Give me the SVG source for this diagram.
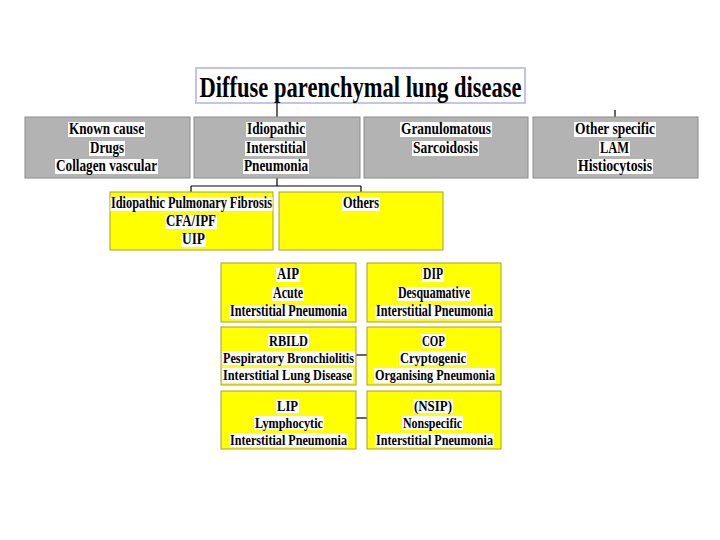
<svg xmlns="http://www.w3.org/2000/svg" width="720" height="540" viewBox="0 0 720 540">
<style>
.gray{fill:#b3b3b3;stroke:#8c8c8c;stroke-width:1}
.yel{fill:#ffff00;stroke:#a8a030;stroke-width:1}
.title{fill:#ffffff;stroke:#c4c4e8;stroke-width:2}
.hl{fill:#ffffff}
text{font-family:"Liberation Serif","Times New Roman",serif;font-weight:bold;fill:#000;text-anchor:middle}
.t{font-size:16px}
.s{font-size:15px}
.big{font-size:30px}
.conn line{stroke:#000;stroke-width:1.2}
</style>
<rect width="720" height="540" fill="#ffffff"/>
<g id="title">
<rect class="title" x="196" y="68" width="329" height="35"/>
<text class="big" x="360.5" y="97" textLength="322" lengthAdjust="spacingAndGlyphs">Diffuse parenchymal lung disease</text>
</g>
<g class="conn" id="connectors">
<line x1="277" y1="103" x2="277" y2="117"/>
<line x1="615" y1="110" x2="615" y2="117"/>
<line x1="277" y1="178" x2="277" y2="186"/>
<line x1="191" y1="186" x2="361" y2="186"/>
<line x1="191" y1="186" x2="191" y2="192"/>
<line x1="361" y1="186" x2="361" y2="192"/>
<line x1="356" y1="355" x2="367" y2="355"/>
<line x1="356" y1="418" x2="367" y2="418"/>
</g>
<g id="known">
<rect class="gray" x="25" y="117" width="165" height="61"/>
<rect class="hl" x="68" y="122" width="77" height="15"/>
<rect class="hl" x="89" y="141" width="36" height="15"/>
<rect class="hl" x="55" y="159" width="103" height="15"/>
<text class="t" x="106.5" y="134" textLength="75" lengthAdjust="spacingAndGlyphs">Known cause</text>
<text class="t" x="107" y="153" textLength="34" lengthAdjust="spacingAndGlyphs">Drugs</text>
<text class="t" x="106.5" y="171" textLength="101" lengthAdjust="spacingAndGlyphs">Collagen vascular</text>
</g>
<g id="iip">
<rect class="gray" x="194" y="117" width="166" height="61"/>
<rect class="hl" x="246" y="122" width="60" height="15"/>
<rect class="hl" x="245" y="141" width="62" height="15"/>
<rect class="hl" x="243" y="159" width="66" height="15"/>
<text class="t" x="276" y="134" textLength="58" lengthAdjust="spacingAndGlyphs">Idiopathic</text>
<text class="t" x="276" y="153" textLength="60" lengthAdjust="spacingAndGlyphs">Interstitial</text>
<text class="t" x="276" y="171" textLength="64" lengthAdjust="spacingAndGlyphs">Pneumonia</text>
</g>
<g id="granulomatous">
<rect class="gray" x="364" y="117" width="164" height="61"/>
<rect class="hl" x="400" y="122" width="92" height="15"/>
<rect class="hl" x="412" y="141" width="67" height="15"/>
<text class="t" x="446" y="134" textLength="90" lengthAdjust="spacingAndGlyphs">Granulomatous</text>
<text class="t" x="445.5" y="153" textLength="65" lengthAdjust="spacingAndGlyphs">Sarcoidosis</text>
</g>
<g id="other">
<rect class="gray" x="533" y="117" width="165" height="61"/>
<rect class="hl" x="574" y="122" width="82" height="15"/>
<rect class="hl" x="599" y="141" width="31" height="15"/>
<rect class="hl" x="577" y="159" width="76" height="15"/>
<text class="t" x="615" y="134" textLength="80" lengthAdjust="spacingAndGlyphs">Other specific</text>
<text class="t" x="614.5" y="153" textLength="29" lengthAdjust="spacingAndGlyphs">LAM</text>
<text class="t" x="615" y="171" textLength="74" lengthAdjust="spacingAndGlyphs">Histiocytosis</text>
</g>
<g id="ipf">
<rect class="yel" x="110" y="192" width="163" height="58"/>
<rect class="hl" x="110.5" y="197" width="162" height="14"/>
<rect class="hl" x="165" y="215" width="52" height="14"/>
<rect class="hl" x="181" y="233" width="25" height="14"/>
<text class="t" x="191.5" y="208" textLength="161" lengthAdjust="spacingAndGlyphs">Idiopathic Pulmonary Fibrosis</text>
<text class="t" x="191" y="226" textLength="50" lengthAdjust="spacingAndGlyphs">CFA/IPF</text>
<text class="t" x="193.5" y="244" textLength="23" lengthAdjust="spacingAndGlyphs">UIP</text>
</g>
<g id="others">
<rect class="yel" x="279" y="192" width="164" height="58"/>
<rect class="hl" x="342" y="197" width="38" height="14"/>
<text class="t" x="361" y="208" textLength="36" lengthAdjust="spacingAndGlyphs">Others</text>
</g>
<g id="aip">
<rect class="yel" x="221" y="263" width="135" height="59"/>
<rect class="hl" x="276" y="268" width="24" height="14"/>
<rect class="hl" x="272" y="287" width="32" height="14"/>
<rect class="hl" x="229" y="305" width="119" height="14"/>
<text class="t" x="288" y="279" textLength="22" lengthAdjust="spacingAndGlyphs">AIP</text>
<text class="t" x="288" y="298" textLength="30" lengthAdjust="spacingAndGlyphs">Acute</text>
<text class="t" x="288.5" y="316" textLength="117" lengthAdjust="spacingAndGlyphs">Interstitial Pneumonia</text>
</g>
<g id="dip">
<rect class="yel" x="367" y="263" width="134" height="59"/>
<rect class="hl" x="422" y="268" width="22" height="14"/>
<rect class="hl" x="397" y="287" width="74" height="14"/>
<rect class="hl" x="375" y="305" width="119" height="14"/>
<text class="t" x="433" y="279" textLength="20" lengthAdjust="spacingAndGlyphs">DIP</text>
<text class="t" x="434" y="298" textLength="72" lengthAdjust="spacingAndGlyphs">Desquamative</text>
<text class="t" x="434.5" y="316" textLength="117" lengthAdjust="spacingAndGlyphs">Interstitial Pneumonia</text>
</g>
<g id="rbild">
<rect class="yel" x="221" y="327" width="135" height="58"/>
<rect class="hl" x="268" y="334" width="41" height="14"/>
<rect class="hl" x="222" y="351" width="133" height="14"/>
<rect class="hl" x="222" y="368" width="131" height="15"/>
<text class="s" x="288.5" y="346" textLength="39" lengthAdjust="spacingAndGlyphs">RBILD</text>
<text class="s" x="288.5" y="363" textLength="131" lengthAdjust="spacingAndGlyphs">Pespiratory Bronchiolitis</text>
<text class="s" x="287.5" y="380" textLength="129" lengthAdjust="spacingAndGlyphs">Interstitial Lung Disease</text>
</g>
<g id="cop">
<rect class="yel" x="367" y="327" width="134" height="58"/>
<rect class="hl" x="421" y="334" width="25" height="14"/>
<rect class="hl" x="399" y="351" width="68" height="14"/>
<rect class="hl" x="374" y="368" width="122" height="15"/>
<text class="s" x="433.5" y="346" textLength="23" lengthAdjust="spacingAndGlyphs">COP</text>
<text class="s" x="433" y="363" textLength="66" lengthAdjust="spacingAndGlyphs">Cryptogenic</text>
<text class="s" x="435" y="380" textLength="120" lengthAdjust="spacingAndGlyphs">Organising Pneumonia</text>
</g>
<g id="lip">
<rect class="yel" x="221" y="391" width="135" height="58"/>
<rect class="hl" x="276" y="399" width="23" height="14"/>
<rect class="hl" x="254" y="416" width="70" height="14"/>
<rect class="hl" x="229" y="433" width="119" height="14"/>
<text class="s" x="287.5" y="411" textLength="21" lengthAdjust="spacingAndGlyphs">LIP</text>
<text class="s" x="289" y="428" textLength="68" lengthAdjust="spacingAndGlyphs">Lymphocytic</text>
<text class="s" x="288.5" y="445" textLength="117" lengthAdjust="spacingAndGlyphs">Interstitial Pneumonia</text>
</g>
<g id="nsip">
<rect class="yel" x="367" y="391" width="134" height="58"/>
<rect class="hl" x="413" y="399" width="40" height="14"/>
<rect class="hl" x="402" y="416" width="61" height="14"/>
<rect class="hl" x="375" y="433" width="119" height="14"/>
<text class="s" x="433" y="411" textLength="38" lengthAdjust="spacingAndGlyphs">(NSIP)</text>
<text class="s" x="432.5" y="428" textLength="59" lengthAdjust="spacingAndGlyphs">Nonspecific</text>
<text class="s" x="434.5" y="445" textLength="117" lengthAdjust="spacingAndGlyphs">Interstitial Pneumonia</text>
</g>
</svg>
